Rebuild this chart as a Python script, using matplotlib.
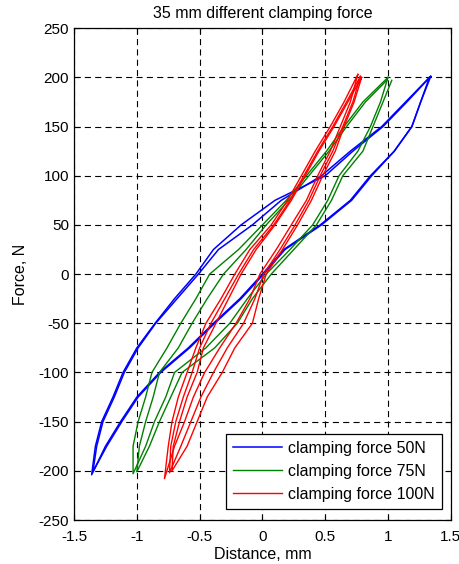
#!/usr/bin/env python3

import numpy as np
import matplotlib
matplotlib.use('Agg')
import matplotlib.pyplot as plt

plt.rcParams['font.family'] = ['Liberation Sans', 'DejaVu Sans']
plt.rcParams['axes.unicode_minus'] = False

force = [-200, -175, -150, -125, -100, -75, -50, -25, 0,
         25, 50, 75, 100, 125, 150, 175, 200]

# -- Clamping force 50N: distance (mm), two cycles
blue_down_1 = [-1.36, -1.33, -1.28, -1.19, -1.11, -1.00, -0.855, -0.70, -0.53,
               -0.39, -0.17, 0.10, 0.50, 0.72, 0.96, 1.15, 1.34]
blue_up_1 = [-1.36, -1.25, -1.13, -1.00, -0.82, -0.59, -0.39, -0.18, 0.00,
             0.17, 0.46, 0.70, 0.86, 1.05, 1.19, 1.26, 1.34]
blue_down_2 = [-1.35, -1.32, -1.27, -1.18, -1.10, -0.99, -0.85, -0.68, -0.51,
               -0.35, -0.08, 0.15, 0.47, 0.70, 0.95, 1.14, 1.33]
blue_up_2 = [-1.35, -1.24, -1.12, -0.99, -0.81, -0.58, -0.38, -0.17, 0.01,
             0.18, 0.47, 0.71, 0.87, 1.05, 1.19, 1.26, 1.33]

# -- Clamping force 75N
green_down_1 = [-1.03, -1.03, -0.99, -0.93, -0.88, -0.76, -0.65, -0.53, -0.42,
                -0.19, 0.00, 0.19, 0.35, 0.51, 0.65, 0.80, 1.00]
green_up_1 = [-1.02, -0.93, -0.86, -0.77, -0.70, -0.45, -0.26, -0.12, 0.03,
              0.22, 0.40, 0.52, 0.61, 0.76, 0.86, 0.94, 1.00]
green_down_2 = [-1.00, -0.98, -0.93, -0.87, -0.82, -0.67, -0.56, -0.44, -0.31,
                -0.13, 0.03, 0.21, 0.37, 0.53, 0.67, 0.82, 0.99]
green_up_2 = [-1.00, -0.90, -0.82, -0.73, -0.64, -0.38, -0.20, -0.08, 0.07,
              0.25, 0.43, 0.55, 0.64, 0.80, 0.88, 0.96, 1.03]

# -- Clamping force 100N, three cycles
red_down_1 = [-0.78, -0.75, -0.72, -0.67, -0.60, -0.53, -0.45, -0.33, -0.22,
              -0.10, 0.07, 0.20, 0.31, 0.42, 0.54, 0.65, 0.76]
red_up_1 = [-0.78, -0.70, -0.62, -0.55, -0.46, -0.34, -0.21, -0.10, -0.02,
            0.11, 0.23, 0.35, 0.44, 0.54, 0.62, 0.70, 0.76]
red_down_2 = [-0.74, -0.73, -0.69, -0.63, -0.56, -0.50, -0.41, -0.30, -0.19,
              -0.07, 0.09, 0.22, 0.33, 0.44, 0.56, 0.67, 0.78]
red_up_2 = [-0.74, -0.65, -0.57, -0.49, -0.39, -0.28, -0.15, -0.06, 0.01,
            0.14, 0.26, 0.37, 0.46, 0.56, 0.64, 0.72, 0.78]
red_down_3 = [-0.72, -0.71, -0.66, -0.60, -0.52, -0.47, -0.37, -0.27, -0.17,
              -0.05, 0.10, 0.23, 0.34, 0.45, 0.57, 0.68, 0.79]
red_up_3 = [-0.72, -0.60, -0.52, -0.44, -0.32, -0.22, -0.08, -0.03, 0.03,
            0.16, 0.28, 0.39, 0.48, 0.58, 0.65, 0.73, 0.79]

# -- Force at the turning points of each cycle (bottom, top)
blue_ends = [(-204, 201), (-201, 200)]
green_ends = [(-203, 200), (-201, 197)]
red_ends = [(-208, 203), (-202, 201), (-200, 200)]

labels = ['clamping force 50N', 'clamping force 75N', 'clamping force 100N']
colors = ['#0000ff', '#008000', '#ff0000']


def loop(down, up, ends):
    f = list(force)
    f[0], f[-1] = ends
    x = list(down[::-1]) + list(up[1:])
    y = f[::-1] + f[1:]
    return x, y


fig = plt.figure(figsize=(4.6, 5.64), dpi=100)
ax = fig.add_axes([0.161, 0.078, 0.819, 0.872])

series = [
    ([(blue_down_1, blue_up_1), (blue_down_2, blue_up_2)], blue_ends),
    ([(green_down_1, green_up_1), (green_down_2, green_up_2)], green_ends),
    ([(red_down_1, red_up_1), (red_down_2, red_up_2),
      (red_down_3, red_up_3)], red_ends),
]

handles = []
for i, (cycles, ends) in enumerate(series):
    for j, (down, up) in enumerate(cycles):
        x, y = loop(down, up, ends[j])
        ln, = ax.plot(x, y, color=colors[i], lw=1.1 if i == 0 else 1.0)
        if j == 0:
            handles.append(ln)

ax.set_xlim(-1.5, 1.5)
ax.set_ylim(-250, 250)
ax.set_xticks(np.arange(-1.5, 1.51, 0.5))
ax.set_xticklabels(['-1.5', '-1', '-0.5', '0', '0.5', '1', '1.5'])
ax.set_yticks(range(-250, 251, 50))
ax.tick_params(direction='in', top=True, right=True, labelsize=11,
               length=4, width=0.8)
ax.tick_params(axis='x', pad=7)
ax.grid(True, color='black', linestyle=(0, (5.5, 3.8)), lw=0.8)
for s in ax.spines.values():
    s.set_linewidth(0.9)

ax.set_title('35 mm different clamping force', fontsize=11.5, pad=7)
ax.set_xlabel('Distance, mm', fontsize=11.5, labelpad=2)
ax.set_ylabel('Force, N', fontsize=11.5, labelpad=8)

leg = ax.legend(handles, labels, loc='lower right',
                bbox_to_anchor=(0.976, 0.022), borderaxespad=0,
                fontsize=11.5, handlelength=3.1, handletextpad=0.35,
                labelspacing=0.5, borderpad=0.45, fancybox=False,
                framealpha=1, edgecolor='black')
leg.get_frame().set_linewidth(0.9)

fig.savefig('out.png', dpi=100)
